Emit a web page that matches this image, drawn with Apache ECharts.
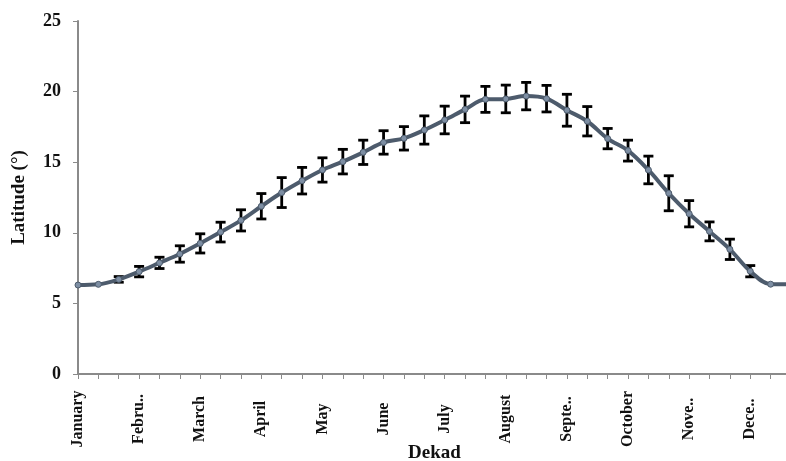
<!DOCTYPE html>
<html>
<head>
<meta charset="utf-8">
<script src="https://cdn.jsdelivr.net/npm/echarts@6/dist/echarts.min.js"></script>
<style>
  html, body { margin: 0; padding: 0; background: #ffffff; }
  #chart { width: 786px; height: 461px; }
</style>
</head>
<body>
<div id="chart"></div>
<script>
// Month labels shown under the first dekad of each month
const months = ['January', 'Febru..', 'March', 'April', 'May', 'June',
                'July', 'August', 'Septe..', 'October', 'Nove..', 'Dece..'];

// Mean latitude (°) for each of the 36 dekads
const latitude = [
  6.3, 6.35, 6.7, 7.25, 7.87, 8.5, 9.25, 10.05, 10.88,
  11.88, 12.85, 13.69, 14.45, 15.04, 15.7, 16.4, 16.69, 17.28,
  17.99, 18.74, 19.45, 19.48, 19.68, 19.5, 18.68, 17.9, 16.67,
  15.82, 14.45, 12.8, 11.35, 10.1, 8.83, 7.28, 6.36, 6.35
];

// Standard deviation (°) for each dekad
const spread = [
  0, 0, 0.2, 0.37, 0.4, 0.58, 0.68, 0.7, 0.75,
  0.9, 1.06, 0.94, 0.86, 0.87, 0.86, 0.83, 0.83, 1.0,
  0.98, 0.94, 0.92, 0.98, 0.97, 0.94, 1.13, 1.04, 0.72,
  0.74, 0.98, 1.24, 0.93, 0.67, 0.72, 0.4, 0, 0
];

const yTicks = { min: 0, max: 25, interval: 5 };

// Three dekads per month; only the first of each carries the month name
const dekads = latitude.map((_, i) => months[Math.floor(i / 3)]);

const errorData = latitude.map((v, i) => [i, v - spread[i], v + spread[i]]);

const serif = '"Liberation Serif", "Times New Roman", serif';

const chart = echarts.init(document.getElementById('chart'), null, { renderer: 'canvas' });

chart.setOption({
  animation: false,
  backgroundColor: '#ffffff',
  grid: { left: 78, right: -5, top: 21, bottom: 87, containLabel: false, outerBoundsMode: 'none' },
  xAxis: {
    type: 'category',
    data: dekads,
    boundaryGap: false,
    name: 'Dekad',
    nameLocation: 'middle',
    nameGap: 70,
    nameMoveOverlap: false,
    nameTextStyle: { fontFamily: serif, fontWeight: 'bold', fontSize: 19, color: '#111' },
    axisLine: { lineStyle: { color: '#8a8a8a', width: 2 } },
    axisTick: { show: true, interval: 0, length: 5, lineStyle: { color: '#8a8a8a', width: 1 } },
    axisLabel: {
      interval: 2,
      rotate: 90,
      margin: 45,
      align: 'center',
      verticalAlign: 'middle',
      fontFamily: serif,
      fontWeight: 'bold',
      fontSize: 16,
      color: '#111'
    },
    splitLine: { show: false }
  },
  yAxis: {
    type: 'value',
    min: yTicks.min,
    max: yTicks.max,
    interval: yTicks.interval,
    name: 'Latitude (°)',
    nameLocation: 'middle',
    nameGap: 49,
    nameMoveOverlap: false,
    nameTextStyle: { fontFamily: serif, fontWeight: 'bold', fontSize: 19, color: '#111' },
    axisLine: { show: true, lineStyle: { color: '#8a8a8a', width: 2 } },
    axisTick: { show: true, length: 5, lineStyle: { color: '#8a8a8a', width: 1 } },
    axisLabel: {
      margin: 17,
      fontFamily: serif,
      fontWeight: 'bold',
      fontSize: 18,
      color: '#111'
    },
    splitLine: { show: false }
  },
  series: [
    {
      // Error bars: vertical stroke plus caps
      type: 'custom',
      z: 2,
      data: errorData,
      clip: false,
      renderItem: function (params, api) {
        const i = api.value(0);
        const lo = api.coord([i, api.value(1)]);
        const hi = api.coord([i, api.value(2)]);
        if (Math.abs(lo[1] - hi[1]) < 1) return null;
        const cap = 5;
        const style = { stroke: '#000000', lineWidth: 2.8 };
        return {
          type: 'group',
          children: [
            { type: 'line', shape: { x1: lo[0], y1: lo[1], x2: hi[0], y2: hi[1] }, style: style },
            { type: 'line', shape: { x1: lo[0] - cap, y1: lo[1], x2: lo[0] + cap, y2: lo[1] }, style: style },
            { type: 'line', shape: { x1: hi[0] - cap, y1: hi[1], x2: hi[0] + cap, y2: hi[1] }, style: style }
          ]
        };
      }
    },
    {
      type: 'line',
      z: 3,
      data: latitude,
      smooth: 0.35,
      clip: false,
      symbol: 'circle',
      symbolSize: 6,
      lineStyle: { color: '#4d5b6c', width: 4 },
      itemStyle: { color: '#7d8ea3', borderColor: '#4d5b6c', borderWidth: 1 }
    }
  ]
});
</script>
</body>
</html>
